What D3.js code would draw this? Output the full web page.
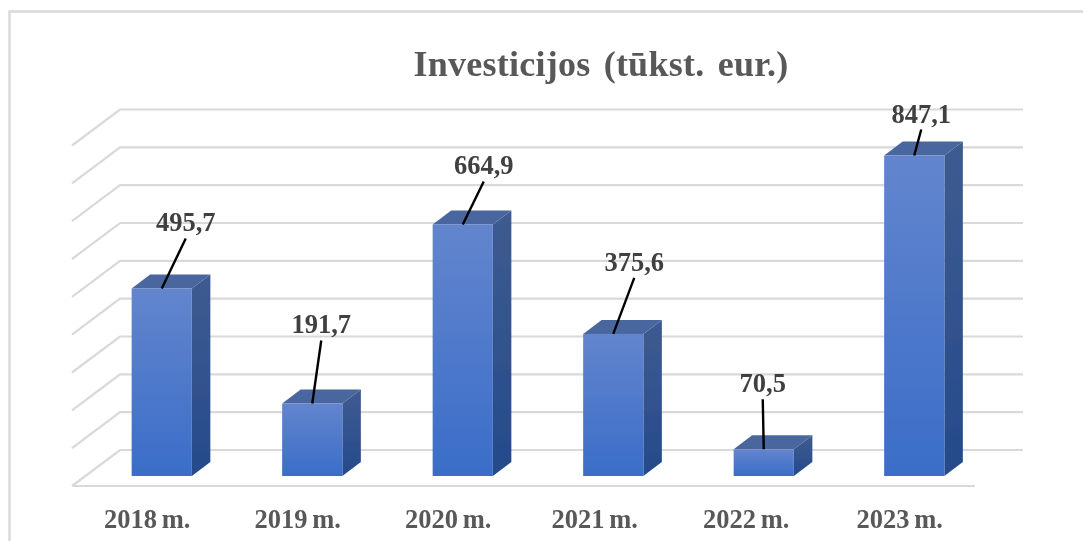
<!DOCTYPE html>
<html><head><meta charset="utf-8">
<script src="https://cdn.jsdelivr.net/npm/d3@7/dist/d3.min.js"></script>
<style>html,body{margin:0;background:#fff}svg{display:block}text{font-family:"Liberation Serif",serif;font-weight:bold}</style>
</head><body><svg id="c" width="1083" height="541"></svg>
<script>
const categories = ["2018 m.","2019 m.","2020 m.","2021 m.","2022 m.","2023 m."];
const values = [495.7,191.7,664.9,375.6,70.5,847.1];
const valueLabels = ["495,7","191,7","664,9","375,6","70,5","847,1"];
const labelDx = [24,9,21,21,-1,7];
const labelDy = [-57,-70,-50,-63,-57,-33];
const tickNudge = [0,0,0,-4,-3,0];
const axisMax = 900, tickStep = 100;

const svg = d3.select("#c");
const defs = svg.append("defs");
function grad(id,a,b){const g=defs.append("linearGradient").attr("id",id).attr("x1",0).attr("y1",0).attr("x2",0).attr("y2",1);
 g.append("stop").attr("offset",0).attr("stop-color",a);g.append("stop").attr("offset",1).attr("stop-color",b);}
grad("front","#6385cd","#3a6dc8");grad("side","#3f5b90","#254a8b");
defs.append("filter").attr("id","soft").attr("x","-2%").attr("y","-2%").attr("width","104%").attr("height","104%")
 .append("feGaussianBlur").attr("stdDeviation",0.55);

const root = svg.append("g").attr("filter","url(#soft)");
root.append("path").attr("d","M1090,11.5H9.5V550").attr("fill","none").attr("stroke","#d9d9d9").attr("stroke-width",2.4);

const left=72,right=975,floorY=486,depthX=48,depthY=36;
const x=d3.scaleBand().domain(categories).range([left,right]).paddingInner(0.6).paddingOuter(0.3);
const y=d3.scaleLinear().domain([0,axisMax]).range([floorY,floorY-340.5]);
const grid=root.append("g").attr("fill","none").attr("stroke","#d9d9d9").attr("stroke-width",2.2);
grid.selectAll("path").data(d3.range(0,axisMax+1,tickStep)).join("path")
 .attr("d",d=>d===0?`M${left},${y(d)}L${left+depthX},${y(d)-depthY}H${right+depthX}M${left},${y(d)}H${right}`
   :`M${left},${y(d)}L${left+depthX},${y(d)-depthY}H${right+depthX}`);

const barInX=14.5,barInY=10,sideX=18.5,sideY=14;
const bars=root.append("g").selectAll("g").data(categories).join("g");
const fx=(c)=>x(c)+barInX, by=floorY-barInY;
const topY=(i)=>y(values[i])-barInY;
bars.append("path").attr("fill","url(#side)").attr("d",(c,i)=>{const X=fx(c)+x.bandwidth();return `M${X},${by}V${topY(i)}l${sideX},${-sideY}V${by-sideY}Z`;});
bars.append("path").attr("fill","#4a669f").attr("d",(c,i)=>`M${fx(c)},${topY(i)}l${sideX},${-sideY}h${x.bandwidth()}l${-sideX},${sideY}Z`);
bars.append("rect").attr("fill","url(#front)").attr("x",fx).attr("y",(c,i)=>topY(i)).attr("width",x.bandwidth()).attr("height",(c,i)=>by-topY(i));

const cx=c=>fx(c)+x.bandwidth()/2;
const lab=root.append("g");
lab.selectAll("line").data(categories).join("line").attr("stroke","#000").attr("stroke-width",2.4)
 .attr("x1",cx).attr("y1",(c,i)=>topY(i)).attr("x2",(c,i)=>cx(c)+labelDx[i]).attr("y2",(c,i)=>topY(i)+labelDy[i]+7);
lab.selectAll("text").data(valueLabels).join("text").attr("text-anchor","middle").attr("fill","#404040").attr("font-size",26.5)
 .attr("x",(d,i)=>cx(categories[i])+labelDx[i]).attr("y",(d,i)=>topY(i)+labelDy[i]).text(d=>d);

const ax=root.append("g").attr("transform",`translate(0,528)`).call(d3.axisBottom(x).tickSize(0).tickPadding(0));
ax.select(".domain").remove();
ax.selectAll("text").attr("fill","#595959").attr("font-size",26.5).attr("dy",0).attr("y",0).attr("x",(d,i)=>tickNudge[i])
 .style("font-family","Liberation Serif").style("font-weight","bold").style("word-spacing","-2px");

root.append("text").attr("x",601).attr("y",76).attr("text-anchor","middle").attr("fill","#595959").attr("font-size",36).style("letter-spacing","0.25px").style("word-spacing","4px").text("Investicijos (tūkst. eur.)");
</script></body></html>
